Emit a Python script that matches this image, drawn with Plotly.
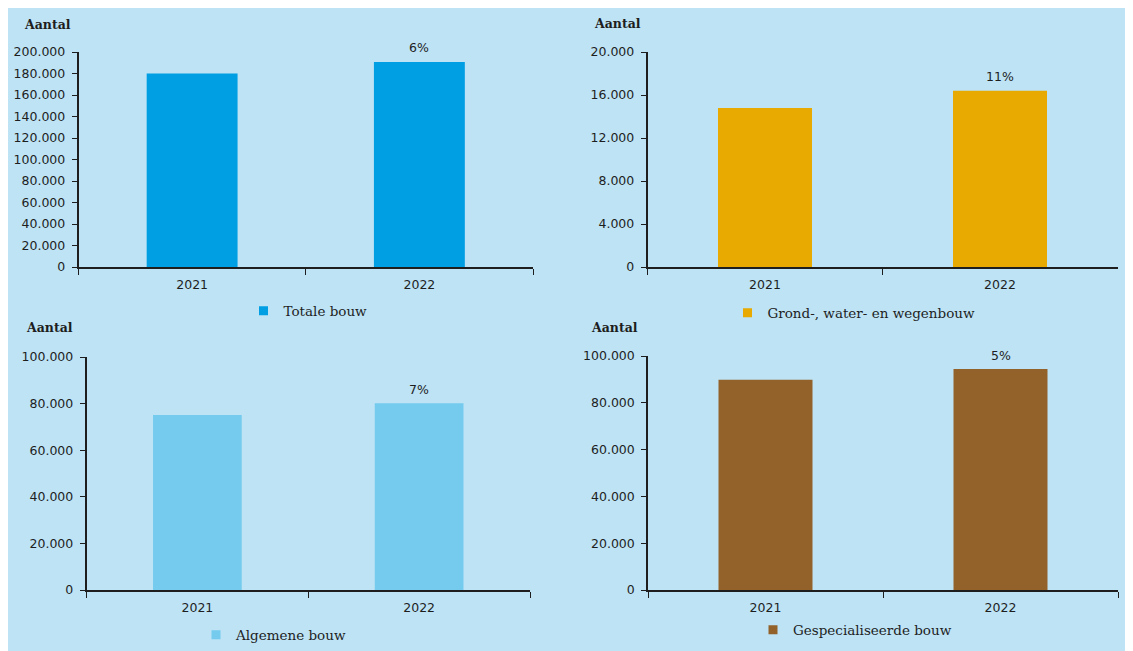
import plotly.graph_objects as go

W, H = 1133, 651
OFFSET = 8  # the page body adds 8px margin around the figure

jaren = ['2021', '2022']
totale_bouw = [180000, 190800]
grond_water_wegenbouw = [14800, 16400]
algemene_bouw = [75100, 80200]
gespecialiseerde_bouw = [89800, 94400]
groei = ['6%', '11%', '7%', '5%']

panels = [
    # naam, waarden, kleur, y-max, y-stap
    ('Totale bouw', totale_bouw, '#009FE3', 200000, 20000),
    ('Grond-, water- en wegenbouw', grond_water_wegenbouw, '#E8AA00', 20000, 4000),
    ('Algemene bouw', algemene_bouw, '#74CBEE', 100000, 20000),
    ('Gespecialiseerde bouw', gespecialiseerde_bouw, '#93622A', 100000, 20000),
]

# plot areas in screen pixels: x0, x1, y_top, y_bottom
areas = [
    (78.5, 533, 52, 267),
    (647.5, 1117.5, 52, 267),
    (86.5, 530, 357, 590),
    (648, 1118, 356, 590),
]
legend_pos = [(308, 311), (854, 313), (274, 635), (855, 630)]
aantal_pos = [(47, 24), (617, 23), (49, 328), (614, 328)]

def px(x):
    return (x - OFFSET) / W

def py(y):
    return 1 - (y - OFFSET) / H

fig = go.Figure()
ink = '#1e1e1e'
tick_font = dict(family='DejaVu Sans', size=12.5, color=ink)

for i, (naam, waarden, kleur, ymax, stap) in enumerate(panels):
    n = '' if i == 0 else str(i + 1)
    leg = 'legend' + n
    fig.add_trace(go.Bar(
        x=jaren, y=waarden, marker_color=kleur, width=0.4,
        marker_line_width=0,
        xaxis='x' + n, yaxis='y' + n, showlegend=False,
    ))
    # legend entry with small square key
    fig.add_trace(go.Scatter(
        x=[None], y=[None], mode='markers', name=naam,
        marker=dict(symbol='square', size=9, color=kleur),
        xaxis='x' + n, yaxis='y' + n, legend=leg,
    ))
    # growth label above the 2022 bar (x as category index)
    fig.add_annotation(
        x=jaren.index('2022'), y=waarden[1], xref='x' + n, yref='y' + n,
        text=groei[i], showarrow=False, yanchor='middle', yshift=14,
        font=tick_font,
    )
    x0, x1, yt, yb = areas[i]
    fig.layout['xaxis' + n] = dict(
        type='category', categoryorder='array', categoryarray=jaren,
        domain=[px(x0), px(x1)], anchor='y' + n, automargin=False,
        showline=True, linecolor=ink, linewidth=1.5,
        ticks='outside', tickson='boundaries', ticklen=6, tickcolor=ink,
        ticklabelstandoff=5, tickfont=tick_font,
        showgrid=False, zeroline=False, fixedrange=True,
    )
    fig.layout['yaxis' + n] = dict(
        domain=[py(yb), py(yt)], anchor='x' + n, automargin=False,
        range=[0, ymax], dtick=stap, tickformat=',d',
        showline=True, linecolor=ink, linewidth=1.5,
        ticks='outside', ticklen=5, tickcolor=ink,
        ticklabelstandoff=4, tickfont=tick_font,
        showgrid=False, zeroline=False,
    )
    lx, ly = legend_pos[i]
    fig.layout[leg] = dict(
        x=px(lx), y=py(ly), xanchor='center', yanchor='middle',
        orientation='h', bgcolor='rgba(0,0,0,0)', itemwidth=30,
        font=dict(family='DejaVu Serif', size=13.5, color=ink),
    )
    ax, ay = aantal_pos[i]
    fig.add_annotation(
        x=px(ax), y=py(ay), xref='paper', yref='paper', showarrow=False,
        xanchor='center', yanchor='middle',
        text='<b>Aantal</b>', font=dict(family='DejaVu Serif', size=12.5, color=ink),
    )

fig.add_shape(type='rect', xref='paper', yref='paper', layer='below',
              x0=0, x1=1, y0=0, y1=1,
              fillcolor='#BDE3F5', line_width=0)

fig.update_layout(
    template='none',
    width=W, height=H,
    margin=dict(l=0, r=0, t=0, b=0, pad=0),
    paper_bgcolor='white', plot_bgcolor='rgba(0,0,0,0)',
    separators=',.',
    bargap=0.6,
)

fig.write_html('out.html', config={'displayModeBar': False})
